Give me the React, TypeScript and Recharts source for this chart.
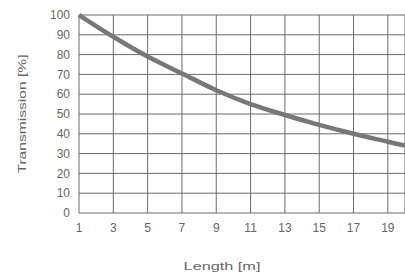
import { CartesianGrid, Line, LineChart, XAxis, YAxis } from "recharts";

// at odd lengths (plus the right edge)
const lengths = [1, 3, 5, 7, 9, 11, 13, 15, 17, 19, 20];
const transmission = [100, 89, 79, 70.5, 62, 55, 49.5, 44.5, 40, 36, 34];

const xTicks = [1, 3, 5, 7, 9, 11, 13, 15, 17, 19];
const yTicks = [0, 10, 20, 30, 40, 50, 60, 70, 80, 90, 100];

const data = lengths.map((len, i) => ({ len, t: transmission[i] }));

const family = "'Liberation Sans', Arial, sans-serif";
const tickFont = { fontFamily: family, fontSize: 12, fill: "#666" };

// axis titles in the original are drawn wide, so stretch them horizontally
function WideTitle({ x, y, text, rotate }: { x: number; y: number; text: string; rotate?: boolean }) {
  const tf = rotate
    ? `translate(${x},${y}) rotate(-90) scale(1.42,1)`
    : `translate(${x},${y}) scale(1.48,1)`;
  return (
    <text transform={tf} textAnchor="middle" dominantBaseline="central" fontFamily={family} fontSize={11} fill="#666">
      {text}
    </text>
  );
}

export default function App() {
  return (
    <div style={{ position: "absolute", left: 0, top: 0, background: "#fff" }}>
      <LineChart width={405} height={275} data={data} margin={{ top: 15, right: 0, bottom: 0, left: 0 }}>
        <CartesianGrid stroke="#6a6a6a" strokeWidth={1} />
        <XAxis
          dataKey="len"
          type="number"
          domain={[1, 20]}
          ticks={xTicks}
          interval={0}
          axisLine={false}
          tickLine={false}
          tickSize={0}
          tickMargin={10}
          tick={tickFont}
          height={62}
          label={{
            value: "Length [m]",
            content: (p: any) => <WideTitle x={p.viewBox.x + 143} y={p.viewBox.y + 53} text="Length [m]" />,
          }}
        />
        <YAxis
          type="number"
          domain={[0, 100]}
          ticks={yTicks}
          interval={0}
          axisLine={false}
          tickLine={false}
          tickSize={0}
          tickMargin={9}
          tick={tickFont}
          width={79}
          label={{
            value: "Transmission [%]",
            content: (p: any) => (
              <WideTitle x={p.viewBox.x + 22} y={p.viewBox.y + p.viewBox.height / 2} text="Transmission [%]" rotate />
            ),
          }}
        />
        <Line
          dataKey="t"
          type="monotone"
          stroke="#777"
          strokeWidth={4.5}
          dot={false}
          isAnimationActive={false}
        />
      </LineChart>
    </div>
  );
}
